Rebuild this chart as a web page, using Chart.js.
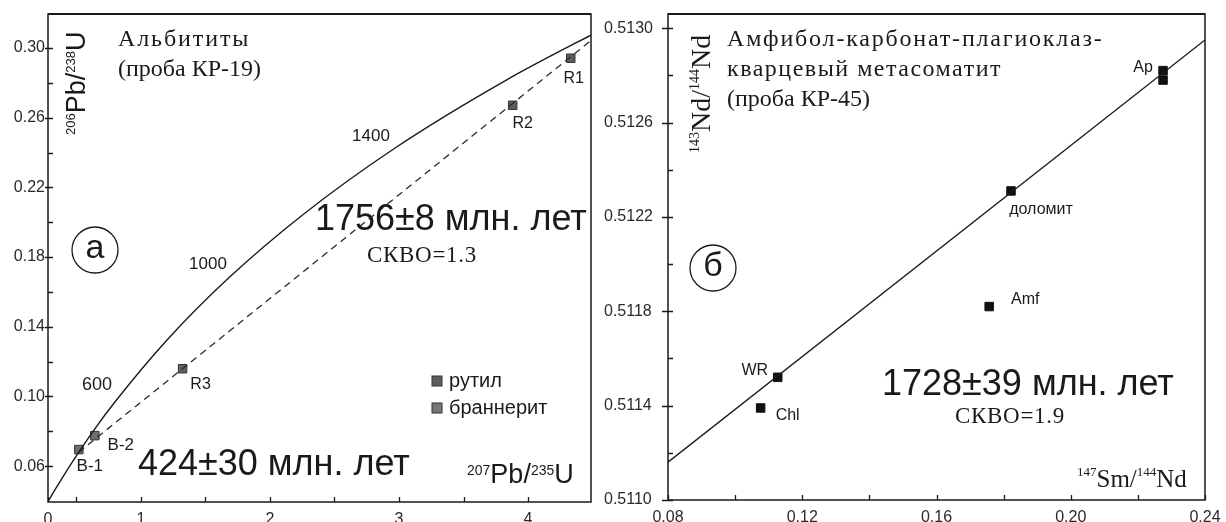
<!DOCTYPE html>
<html>
<head>
<meta charset="utf-8">
<script src="https://cdn.jsdelivr.net/npm/chart.js@4.4.1/dist/chart.umd.min.js"></script>
<style>
  html, body { margin: 0; padding: 0; background: #fff; }
  #wrap { position: relative; width: 1226px; height: 522px; overflow: hidden; }
  canvas { position: absolute; top: 0; }
  #chart-a { left: 0; }
  #chart-b { left: 600px; }
</style>
</head>
<body>
<div id="wrap">
  <canvas id="chart-a" width="600" height="522"></canvas>
  <canvas id="chart-b" width="626" height="522"></canvas>
</div>
<script>
// ─── Панель а: U-Pb конкордия (альбититы, КР-19) ───
const concordiaX = [0.279, 0.344, 0.483, 0.636, 0.806, 1.199, 1.677, 2.260, 2.970, 3.835, 4.604];
const concordiaY = [0.0395, 0.0476, 0.0640, 0.0807, 0.0975, 0.1321, 0.1678, 0.2046, 0.2426, 0.2817, 0.3119];
const discordiaX = [0.518, 4.488];
const discordiaY = [0.0680, 0.3043];

const rutileNames = ['R1', 'R2', 'R3'];
const rutileX = [4.331, 3.881, 1.323];
const rutileY = [0.2941, 0.2671, 0.1159];

const brannNames = ['B-1', 'B-2'];
const brannX = [0.519, 0.643];
const brannY = [0.0695, 0.0775];

const aXTicks = [0.28, 0.5, 1, 1.5, 2, 2.5, 3, 3.5, 4];
const aXLabels = ['0', '', '1', '', '2', '', '3', '', '4'];
const aYTicks = [0.06, 0.08, 0.10, 0.12, 0.14, 0.16, 0.18, 0.20, 0.22, 0.24, 0.26, 0.28, 0.30];
const aYLabels = ['0.06', '', '0.10', '', '0.14', '', '0.18', '', '0.22', '', '0.26', '', '0.30'];

// ─── Панель б: Sm-Nd изохрона (КР-45) ───
const ndNames = ['Ap', '', 'доломит', 'Amf', 'WR', 'Chl'];
const smNd = [0.2275, 0.2275, 0.1822, 0.1757, 0.1127, 0.1076];
const ndNd = [0.51282, 0.51278, 0.51231, 0.51182, 0.51152, 0.51139];
const isoX = [0.08, 0.24];
const isoY = [0.51116, 0.51295];

const bXTicks = [0.08, 0.10, 0.12, 0.14, 0.16, 0.18, 0.20, 0.22, 0.24];
const bXLabels = ['0.08', '', '0.12', '', '0.16', '', '0.20', '', '0.24'];
const bYTicks = [0.5110, 0.5112, 0.5114, 0.5116, 0.5118, 0.5120, 0.5122, 0.5124, 0.5126, 0.5128, 0.5130];
const bYLabels = ['0.5110', '', '0.5114', '', '0.5118', '', '0.5122', '', '0.5126', '', '0.5130'];

const SANS = '"Liberation Sans", Arial, sans-serif';
const SERIF = '"Liberation Serif", "Times New Roman", serif';
const INK = '#1a1a1a';

function pts(xs, ys) {
  return xs.map((x, i) => ({ x: x, y: ys[i] }));
}

// рамка и внутренние засечки
function framePlugin(outY) {
  return {
    id: 'frame',
    afterDraw(chart) {
      const { ctx, chartArea: a, scales } = chart;
      ctx.save();
      ctx.strokeStyle = INK;
      ctx.lineWidth = 1.3;
      ctx.beginPath();
      scales.x.ticks.forEach(t => {
        const px = Math.round(scales.x.getPixelForValue(t.value)) + 0.5;
        ctx.moveTo(px, a.bottom);
        ctx.lineTo(px, a.bottom - 5);
      });
      scales.y.ticks.forEach(t => {
        const py = Math.round(scales.y.getPixelForValue(t.value)) + 0.5;
        ctx.moveTo(a.left - (t.label ? outY : 0), py);
        ctx.lineTo(a.left + 5, py);
      });
      ctx.stroke();
      ctx.lineWidth = 1.5;
      ctx.strokeRect(a.left, a.top, a.right - a.left, a.bottom - a.top);
      ctx.lineWidth = 2.2;
      ctx.beginPath();
      ctx.moveTo(a.left, a.top);
      ctx.lineTo(a.right, a.top);
      ctx.stroke();
      ctx.restore();
    }
  };
}

// надписи: тексты, подписи точек, изотопные отношения
function notesPlugin(cfg) {
  return {
    id: 'notes',
    afterDraw(chart) {
      const ctx = chart.ctx;
      const ox = cfg.offsetX;
      ctx.save();
      ctx.fillStyle = INK;
      ctx.textBaseline = 'middle';

      cfg.texts.forEach(t => {
        ctx.font = t.font;
        ctx.letterSpacing = t.spacing || '0px';
        ctx.textAlign = t.align || 'left';
        ctx.fillText(t.text, t.x - ox, t.y);
      });
      ctx.letterSpacing = '0px';

      cfg.pointLabels.forEach(pl => {
        const meta = chart.getDatasetMeta(pl.dataset);
        pl.names.forEach((name, i) => {
          if (!name) return;
          const el = meta.data[i];
          const off = pl.offsets[i];
          ctx.font = pl.font;
          ctx.textAlign = 'center';
          ctx.fillText(name, el.x + off[0], el.y + off[1]);
        });
      });

      cfg.circles.forEach(c => {
        ctx.beginPath();
        ctx.lineWidth = 1.3;
        ctx.strokeStyle = INK;
        ctx.arc(c.x - ox, c.y, c.r, 0, Math.PI * 2);
        ctx.stroke();
        ctx.font = c.font;
        ctx.textAlign = 'center';
        ctx.fillText(c.text, c.x - ox, c.y - 1);
      });

      cfg.isotopes.forEach(iso => {
        ctx.save();
        ctx.translate(iso.x - ox, iso.y);
        if (iso.rotate) ctx.rotate(-Math.PI / 2);
        ctx.textAlign = 'left';
        ctx.textBaseline = 'alphabetic';
        let cx = 0;
        iso.parts.forEach(p => {
          const sup = p[1];
          ctx.font = sup ? iso.supFont : iso.font;
          ctx.fillText(p[0], cx, sup ? -iso.raise : 0);
          cx += ctx.measureText(p[0]).width;
        });
        ctx.restore();
      });

      cfg.legend.forEach(l => {
        ctx.fillStyle = l.fill;
        ctx.strokeStyle = '#333';
        ctx.lineWidth = 1;
        ctx.fillRect(l.x - ox - 5, l.y - 5, 10, 10);
        ctx.strokeRect(l.x - ox - 5, l.y - 5, 10, 10);
        ctx.fillStyle = INK;
        ctx.font = '20px ' + SANS;
        ctx.textAlign = 'left';
        ctx.fillText(l.text, l.x - ox + 12, l.y);
      });
      ctx.restore();
    }
  };
}

function axisCfg(min, max, ticks, labels, isY, pad, size, cross) {
  return {
    type: 'linear',
    min: min,
    max: max,
    grid: { display: false, drawTicks: false, tickLength: 0 },
    border: { display: false },
    afterBuildTicks: s => { s.ticks = ticks.map(v => ({ value: v })); },
    afterFit: s => {
      if (isY) s.width = size; else s.height = size;
      // крайние подписи не должны сдвигать область графика
      s.paddingLeft = s.paddingRight = s.paddingTop = s.paddingBottom = 0;
    },
    ticks: {
      autoSkip: false,
      maxRotation: 0,
      padding: pad,
      crossAlign: cross || 'near',
      color: '#2a2a2a',
      font: { family: SANS, size: 16 },
      callback: (v, i) => labels[i]
    }
  };
}

const baseOptions = {
  responsive: false,
  animation: false,
  events: [],
  plugins: { legend: { display: false }, tooltip: { enabled: false } }
};

// ─── Chart а ───
new Chart(document.getElementById('chart-a'), {
  type: 'scatter',
  data: {
    datasets: [
      {
        data: pts(concordiaX, concordiaY),
        showLine: true, borderColor: INK, borderWidth: 1.4,
        pointRadius: 0, cubicInterpolationMode: 'monotone'
      },
      {
        data: pts(discordiaX, discordiaY),
        showLine: true, borderColor: '#2a2a2a', borderWidth: 1.3,
        borderDash: [7, 5], pointRadius: 0
      },
      {
        data: pts(rutileX, rutileY),
        pointStyle: 'rect', pointRadius: 6,
        backgroundColor: '#5e5e5e', borderColor: '#333', borderWidth: 1
      },
      {
        data: pts(brannX, brannY),
        pointStyle: 'rect', pointRadius: 6,
        backgroundColor: '#6e6e6e', borderColor: '#333', borderWidth: 1
      }
    ]
  },
  options: Object.assign({}, baseOptions, {
    layout: { padding: { left: 0, right: 9, top: 14, bottom: 0 } },
    scales: {
      x: axisCfg(0.28, 4.488, aXTicks, aXLabels, false, 8, 20),
      y: axisCfg(0.0394, 0.3195, aYTicks, aYLabels, true, 3, 48)
    }
  }),
  plugins: [framePlugin(3), notesPlugin({
    offsetX: 0,
    texts: [
      { text: 'Альбититы', x: 118, y: 40, font: '24px ' + SERIF, spacing: '1.9px' },
      { text: '(проба КР-19)', x: 118, y: 70, font: '24px ' + SERIF },
      { text: '1400', x: 371, y: 136, font: '17px ' + SANS, align: 'center' },
      { text: '1000', x: 208, y: 264, font: '17px ' + SANS, align: 'center' },
      { text: '600', x: 97, y: 385, font: '18px ' + SANS, align: 'center' },
      { text: '1756±8 млн. лет', x: 315, y: 220, font: '36px ' + SANS },
      { text: 'СКВО=1.3', x: 367, y: 256, font: '23px ' + SERIF, spacing: '0.7px' },
      { text: '424±30 млн. лет', x: 138, y: 465, font: '36px ' + SANS }
    ],
    pointLabels: [
      { dataset: 2, names: rutileNames, font: '16px ' + SANS, offsets: [[3, 20], [10, 18], [18, 16]] },
      { dataset: 3, names: brannNames, font: '17px ' + SANS, offsets: [[11, 17], [26, 10]] }
    ],
    circles: [{ x: 95, y: 250, r: 23, text: 'а', font: '34px ' + SANS }],
    isotopes: [
      { x: 85, y: 135, rotate: true, font: '27px ' + SANS, supFont: '13px ' + SANS, raise: 10,
        parts: [['206', true], ['Pb/', false], ['238', true], ['U', false]] },
      { x: 467, y: 483, rotate: false, font: '27px ' + SANS, supFont: '14px ' + SANS, raise: 8,
        parts: [['207', true], ['Pb/', false], ['235', true], ['U', false]] }
    ],
    legend: [
      { text: 'рутил', x: 437, y: 381, fill: '#5e5e5e' },
      { text: 'браннерит', x: 437, y: 408, fill: '#777' }
    ]
  })]
});

// ─── Chart б ───
new Chart(document.getElementById('chart-b'), {
  type: 'scatter',
  data: {
    datasets: [
      {
        data: pts(isoX, isoY),
        showLine: true, borderColor: INK, borderWidth: 1.4, pointRadius: 0
      },
      {
        data: pts(smNd, ndNd),
        pointStyle: 'rect', pointRadius: 6,
        backgroundColor: '#111', borderColor: '#111', borderWidth: 1
      }
    ]
  },
  options: Object.assign({}, baseOptions, {
    layout: { padding: { left: 4, right: 21, top: 14, bottom: 0 } },
    scales: {
      x: axisCfg(0.08, 0.24, bXTicks, bXLabels, false, 8, 22),
      y: axisCfg(0.5110, 0.51306, bYTicks, bYLabels, true, 3, 64, 'far')
    }
  }),
  plugins: [framePlugin(6), notesPlugin({
    offsetX: 600,
    texts: [
      { text: 'Амфибол-карбонат-плагиоклаз-', x: 727, y: 40, font: '24px ' + SERIF, spacing: '1.8px' },
      { text: 'кварцевый метасоматит', x: 727, y: 70, font: '24px ' + SERIF, spacing: '1.5px' },
      { text: '(проба КР-45)', x: 727, y: 100, font: '24px ' + SERIF },
      { text: '1728±39 млн. лет', x: 882, y: 385, font: '36px ' + SANS },
      { text: 'СКВО=1.9', x: 955, y: 417, font: '23px ' + SERIF, spacing: '0.7px' }
    ],
    pointLabels: [
      { dataset: 1, names: ndNames, font: '16px ' + SANS,
        offsets: [[-20, -3], [0, 0], [30, 19], [36, -7], [-23, -7], [27, 8]] }
    ],
    circles: [{ x: 713, y: 268, r: 23, text: 'б', font: '34px ' + SANS }],
    isotopes: [
      { x: 710, y: 153, rotate: true, font: '28px ' + SERIF, supFont: '14px ' + SERIF, raise: 11,
        parts: [['143', true], ['Nd/', false], ['144', true], ['Nd', false]] },
      { x: 1077, y: 487, rotate: false, font: '25px ' + SERIF, supFont: '13px ' + SERIF, raise: 11,
        parts: [['147', true], ['Sm/', false], ['144', true], ['Nd', false]] }
    ],
    legend: []
  })]
});
</script>
</body>
</html>
